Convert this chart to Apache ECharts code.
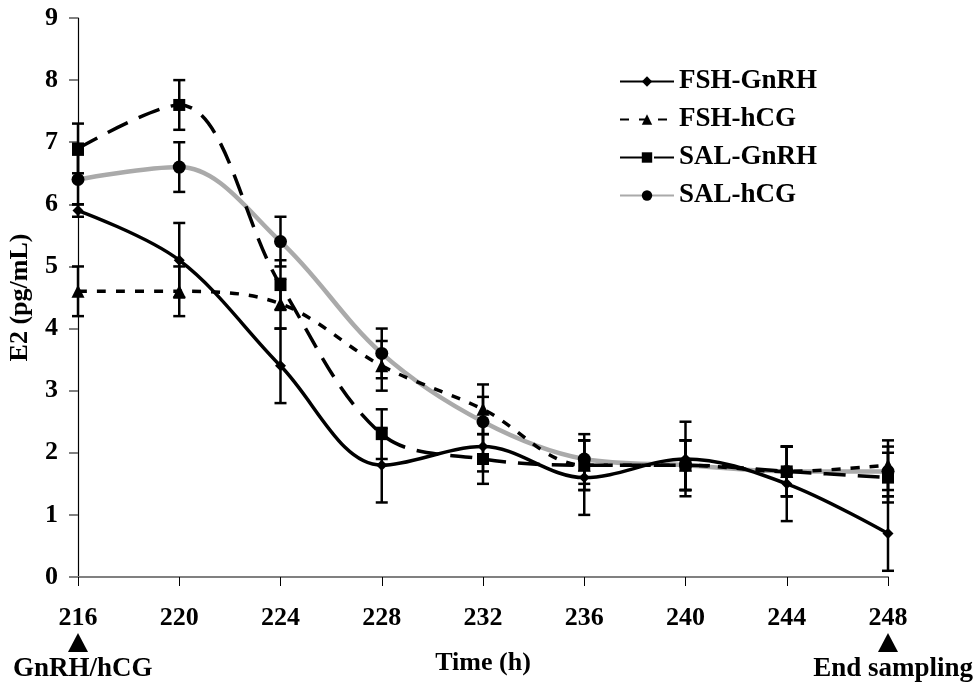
<!DOCTYPE html>
<html>
<head>
<meta charset="utf-8">
<script src="https://cdn.jsdelivr.net/npm/echarts@6/dist/echarts.min.js"></script>
<style>
html,body{margin:0;padding:0;background:#fff;}
#main{width:977px;height:687px;}
</style>
</head>
<body>
<div id="main"></div>
<script>
var hours = [216, 220, 224, 228, 232, 236, 240, 244, 248];
var fshGnrh = [5.9, 5.1, 3.4, 1.8, 2.1, 1.6, 1.9, 1.5, 0.7];
var fshGnrhErr = [0.1, 0.6, 0.6, 0.6, 0.4, 0.6, 0.6, 0.6, 0.6];
var fshHcg = [4.6, 4.6, 4.4, 3.4, 2.7, 1.8, 1.8, 1.7, 1.8];
var fshHcgErr = [0.4, 0.4, 0.4, 0.4, 0.4, 0.4, 0.4, 0.4, 0.4];
var salGnrh = [6.9, 7.6, 4.7, 2.3, 1.9, 1.8, 1.8, 1.7, 1.6];
var salGnrhErr = [0.4, 0.4, 0.4, 0.4, 0.4, 0.4, 0.4, 0.4, 0.4];
var salHcg = [6.4, 6.6, 5.4, 3.6, 2.5, 1.9, 1.8, 1.7, 1.7];
var salHcgErr = [0.4, 0.4, 0.4, 0.4, 0.4, 0.4, 0.4, 0.4, 0.4];
var yTicks = [0, 1, 2, 3, 4, 5, 6, 7, 8, 9];

var FONT = '"Liberation Serif", "Times New Roman", serif';

function pairs(vals) {
  return hours.map(function (h, i) { return [h, vals[i]]; });
}
function errData(vals, errs) {
  return hours.map(function (h, i) { return [h, vals[i] - errs[i], vals[i] + errs[i]]; });
}
function errSeries(vals, errs, color) {
  return {
    type: 'custom',
    silent: true,
    z: 3,
    data: errData(vals, errs),
    renderItem: function (params, api) {
      var x = api.value(0);
      var lo = api.coord([x, api.value(1)]);
      var hi = api.coord([x, api.value(2)]);
      var cap = 6;
      var st = { stroke: color, lineWidth: 2.5 };
      return {
        type: 'group',
        children: [
          { type: 'line', shape: { x1: lo[0], y1: lo[1], x2: hi[0], y2: hi[1] }, style: st },
          { type: 'line', shape: { x1: lo[0] - cap, y1: lo[1], x2: lo[0] + cap, y2: lo[1] }, style: st },
          { type: 'line', shape: { x1: hi[0] - cap, y1: hi[1], x2: hi[0] + cap, y2: hi[1] }, style: st }
        ]
      };
    },
    encode: { x: 0, y: [1, 2] }
  };
}

var chart = echarts.init(document.getElementById('main'));
var option = {
  backgroundColor: '#fff',
  animation: false,
  grid: { left: 78, right: 89, top: 18, bottom: 110, containLabel: false, outerBoundsMode: 'none' },
  legend: {
    orient: 'vertical',
    left: 614,
    top: 63,
    itemWidth: 54,
    itemHeight: 13,
    itemGap: 11,
    textStyle: { fontFamily: FONT, fontWeight: 'bold', fontSize: 27, color: '#000' },
    data: ['FSH-GnRH', 'FSH-hCG', 'SAL-GnRH', 'SAL-hCG']
  },
  xAxis: {
    type: 'value',
    min: 216, max: 248, interval: 4,
    name: 'Time (h)',
    nameLocation: 'middle',
    nameGap: 73,
    nameTextStyle: { fontFamily: FONT, fontWeight: 'bold', fontSize: 26, color: '#000' },
    axisLine: { show: true, onZero: false, lineStyle: { color: '#808080', width: 2 } },
    axisTick: { show: true, length: 9, lineStyle: { color: '#000', width: 1 } },
    axisLabel: { margin: 28, fontFamily: FONT, fontWeight: 'bold', fontSize: 26, color: '#000' },
    splitLine: { show: false }
  },
  yAxis: {
    type: 'value',
    min: yTicks[0], max: yTicks[yTicks.length - 1], interval: 1,
    name: 'E2 (pg/mL)',
    nameLocation: 'middle',
    nameGap: 45,
    nameTextStyle: { fontFamily: FONT, fontWeight: 'bold', fontSize: 26, color: '#000' },
    axisLine: { show: true, lineStyle: { color: '#000', width: 1.2 } },
    axisTick: { show: true, length: 9, lineStyle: { color: '#808080', width: 2 } },
    axisLabel: { margin: 20, fontFamily: FONT, fontWeight: 'bold', fontSize: 26, color: '#000' },
    splitLine: { show: false }
  },
  series: [
    errSeries(salHcg, salHcgErr, '#000'),
    errSeries(salGnrh, salGnrhErr, '#000'),
    errSeries(fshHcg, fshHcgErr, '#000'),
    errSeries(fshGnrh, fshGnrhErr, '#000'),
    {
      name: 'SAL-hCG', type: 'line', smooth: 0.35, z: 4,
      data: pairs(salHcg),
      symbol: 'circle', symbolSize: 13,
      lineStyle: { color: '#aaaaaa', width: 4.5 },
      itemStyle: { color: '#000' }
    },
    {
      name: 'SAL-GnRH', type: 'line', smooth: 0.35, z: 5,
      data: pairs(salGnrh),
      symbol: 'rect', symbolSize: 12,
      lineStyle: { color: '#000', width: 3.5, type: [22, 12] },
      itemStyle: { color: '#000' }
    },
    {
      name: 'FSH-hCG', type: 'line', smooth: 0.35, z: 5,
      data: pairs(fshHcg),
      symbol: 'triangle', symbolSize: 13,
      lineStyle: { color: '#000', width: 3.5, type: [9, 10] },
      itemStyle: { color: '#000' }
    },
    {
      name: 'FSH-GnRH', type: 'line', smooth: 0.35, z: 6,
      data: pairs(fshGnrh),
      symbol: 'diamond', symbolSize: 11,
      lineStyle: { color: '#000', width: 3.5 },
      itemStyle: { color: '#000' }
    }
  ]
};
chart.setOption(option);

var p0 = chart.convertToPixel({ gridIndex: 0 }, [hours[0], 0]);
var p1 = chart.convertToPixel({ gridIndex: 0 }, [hours[hours.length - 1], 0]);
chart.setOption({
  graphic: [
    { type: 'polygon', shape: { points: [[p0[0] - 10, p0[1] + 75], [p0[0] + 10, p0[1] + 75], [p0[0], p0[1] + 56]] }, style: { fill: '#000' } },
    { type: 'polygon', shape: { points: [[p1[0] - 10, p1[1] + 75], [p1[0] + 10, p1[1] + 75], [p1[0], p1[1] + 56]] }, style: { fill: '#000' } },
    { type: 'text', left: 13, top: p0[1] + 79, style: { text: 'GnRH/hCG', font: 'bold 27px ' + FONT, fill: '#000' } },
    { type: 'text', right: 4, top: p0[1] + 79, style: { text: 'End sampling', font: 'bold 27px ' + FONT, fill: '#000' } }
  ]
});
</script>
</body>
</html>
